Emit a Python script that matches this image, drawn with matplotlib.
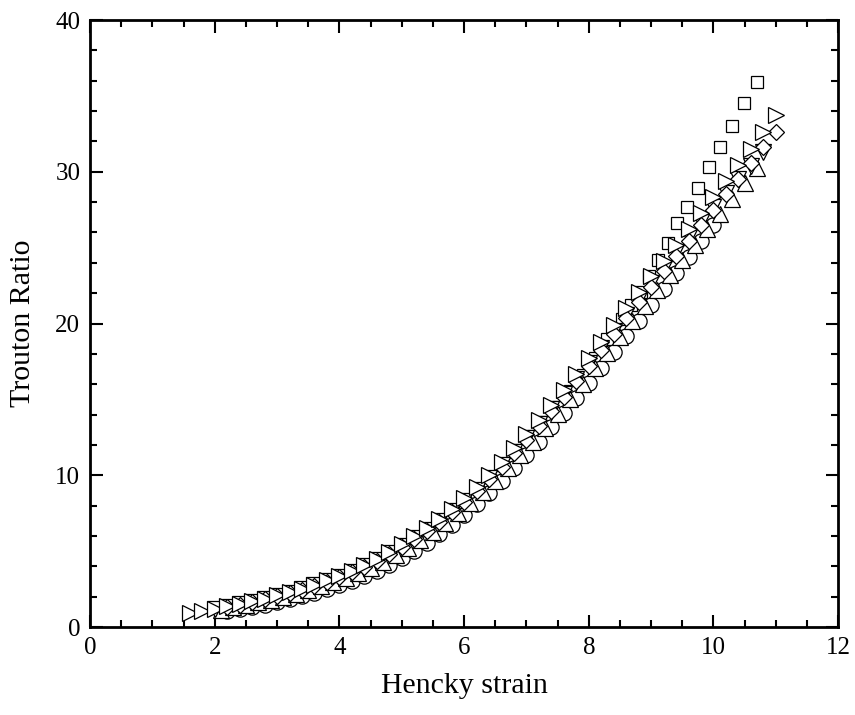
import matplotlib
matplotlib.use("Agg")
import matplotlib.pyplot as plt
from matplotlib.ticker import MultipleLocator

plt.rcParams['font.family'] = ['Liberation Serif', 'DejaVu Serif']

# Hencky strain / Trouton ratio
sq_x = [2.1, 2.3, 2.5, 2.7, 2.9, 3.1, 3.3, 3.5, 3.7, 3.9, 4.1, 4.3, 4.5, 4.7, 4.9,
        5.1, 5.3, 5.5, 5.7, 5.9, 6.1, 6.3, 6.5, 6.7, 6.9, 7.1, 7.3, 7.5, 7.7, 7.9,
        8.1, 8.3, 8.53, 8.68, 8.83, 8.97, 9.11, 9.27, 9.42, 9.58, 9.75, 9.93,
        10.11, 10.30, 10.49, 10.70]
sq_y = [1.20, 1.33, 1.47, 1.62, 1.79, 1.97, 2.17, 2.39, 2.63, 2.90, 3.20, 3.53,
        3.90, 4.32, 4.78, 5.28, 5.82, 6.40, 7.02, 7.68, 8.38, 9.12, 9.92, 10.76,
        11.64, 12.56, 13.52, 14.52, 15.56, 16.64, 17.76, 18.95, 20.3, 21.2, 22.1,
        23.1, 24.2, 25.3, 26.6, 27.7, 28.9, 30.3, 31.6, 33.0, 34.5, 35.9]

ci_x = [2.2, 2.4, 2.6, 2.8, 3.0, 3.2, 3.4, 3.6, 3.8, 4.0, 4.2, 4.4, 4.6, 4.8, 5.0,
        5.2, 5.4, 5.6, 5.8, 6.0, 6.2, 6.4, 6.6, 6.8, 7.0, 7.2, 7.4, 7.6, 7.8, 8.0,
        8.2, 8.4, 8.6, 8.8, 9.0, 9.2, 9.4, 9.6, 9.8, 10.0]
ci_y = [1.05, 1.18, 1.32, 1.48, 1.64, 1.82, 2.02, 2.24, 2.48, 2.74, 3.02, 3.34,
        3.70, 4.10, 4.55, 5.02, 5.55, 6.12, 6.72, 7.38, 8.08, 8.82, 9.62, 10.45,
        11.32, 12.22, 13.15, 14.10, 15.08, 16.08, 17.10, 18.12, 19.15, 20.20,
        21.25, 22.30, 23.35, 24.40, 25.45, 26.50]

up_x = [2.1, 2.3, 2.5, 2.7, 2.9, 3.1, 3.3, 3.5, 3.7, 3.9, 4.1, 4.3, 4.5, 4.7, 4.9,
        5.1, 5.3, 5.5, 5.7, 5.9, 6.1, 6.3, 6.5, 6.7, 6.9, 7.1, 7.3, 7.5, 7.7, 7.9,
        8.1, 8.3, 8.5, 8.7, 8.9, 9.1, 9.3, 9.5, 9.7, 9.9, 10.1, 10.3, 10.5, 10.7]
up_y = [1.15, 1.31, 1.46, 1.63, 1.80, 2.00, 2.21, 2.44, 2.69, 2.96, 3.24, 3.57,
        3.92, 4.30, 4.75, 5.23, 5.74, 6.29, 6.86, 7.49, 8.16, 8.88, 9.65, 10.46,
        11.33, 12.19, 13.10, 14.06, 15.02, 16.03, 17.04, 18.05, 19.10, 20.16,
        21.17, 22.18, 23.18, 24.19, 25.20, 26.21, 27.22, 28.22, 29.23, 30.24]

dn_x = [2.0, 2.2, 2.4, 2.6, 2.8, 3.0, 3.2, 3.4, 3.6, 3.8, 4.0, 4.2, 4.4, 4.6, 4.8,
        5.0, 5.2, 5.4, 5.6, 5.8, 6.0, 6.2, 6.4, 6.6, 6.8, 7.0, 7.2, 7.4, 7.6, 7.8,
        8.0, 8.2, 8.4, 8.6, 8.8, 9.0, 9.2, 9.4, 9.6, 9.8, 10.0, 10.2, 10.4, 10.6,
        10.8]
dn_y = [1.17, 1.33, 1.49, 1.66, 1.84, 2.04, 2.25, 2.49, 2.74, 3.02, 3.31, 3.64,
        4.00, 4.39, 4.85, 5.34, 5.86, 6.42, 7.00, 7.64, 8.33, 9.06, 9.85, 10.68,
        11.56, 12.45, 13.38, 14.36, 15.34, 16.37, 17.40, 18.42, 19.50, 20.58,
        21.61, 22.64, 23.67, 24.70, 25.70, 26.70, 27.70, 28.60, 29.50, 30.40,
        31.30]

di_x = [2.2, 2.4, 2.6, 2.8, 3.0, 3.2, 3.4, 3.6, 3.8, 4.0, 4.2, 4.4, 4.6, 4.8, 5.0,
        5.2, 5.4, 5.6, 5.8, 6.0, 6.2, 6.4, 6.6, 6.8, 7.0, 7.2, 7.4, 7.6, 7.8, 8.0,
        8.2, 8.4, 8.6, 8.8, 9.0, 9.2, 9.4, 9.6, 9.8, 10.0, 10.2, 10.4, 10.6, 10.8,
        11.0]
di_y = [1.32, 1.47, 1.65, 1.82, 2.02, 2.23, 2.46, 2.72, 2.99, 3.28, 3.61, 3.96,
        4.35, 4.80, 5.29, 5.80, 6.35, 6.94, 7.57, 8.25, 8.97, 9.75, 10.57, 11.45,
        12.32, 13.24, 14.21, 15.18, 16.20, 17.22, 18.24, 19.30, 20.37, 21.39,
        22.41, 23.43, 24.44, 25.46, 26.48, 27.50, 28.52, 29.54, 30.56, 31.60,
        32.60]

rt_x = [1.6, 1.8, 2.0, 2.2, 2.4, 2.6, 2.8, 3.0, 3.2, 3.4, 3.6, 3.8, 4.0, 4.2, 4.4,
        4.6, 4.8, 5.0, 5.2, 5.4, 5.6, 5.8, 6.0, 6.2, 6.4, 6.6, 6.8, 7.0, 7.2, 7.4,
        7.6, 7.8, 8.0, 8.2, 8.4, 8.6, 8.8, 9.0, 9.2, 9.4, 9.6, 9.8, 10.0, 10.2,
        10.4, 10.6, 10.8, 11.0]
rt_y = [0.92, 1.05, 1.20, 1.36, 1.52, 1.70, 1.88, 2.08, 2.30, 2.54, 2.80, 3.08,
        3.38, 3.72, 4.08, 4.48, 4.95, 5.45, 5.98, 6.55, 7.15, 7.80, 8.50, 9.25,
        10.05, 10.90, 11.80, 12.70, 13.65, 14.65, 15.65, 16.70, 17.75, 18.80,
        19.90, 21.00, 22.05, 23.10, 24.15, 25.20, 26.25, 27.30, 28.35, 29.40,
        30.45, 31.50, 32.60, 33.75]

fig = plt.figure(figsize=(8.55, 7.15), dpi=100)
ax = fig.add_axes([0.1053, 0.123, 0.875, 0.849])

series = [(sq_x, sq_y, 's', 9), (ci_x, ci_y, 'o', 11), (up_x, up_y, '^', 12),
          (dn_x, dn_y, 'v', 12), (di_x, di_y, 'D', 8.5), (rt_x, rt_y, '>', 12)]
for xs, ys, m, ms in series:
    ax.plot(xs, ys, linestyle='none', marker=m, markersize=ms,
            markerfacecolor='white', markeredgecolor='black', markeredgewidth=0.9)

ax.set_xlim(0, 12)
ax.set_ylim(0, 40)
ax.xaxis.set_major_locator(MultipleLocator(2))
ax.xaxis.set_minor_locator(MultipleLocator(0.5))
ax.yaxis.set_major_locator(MultipleLocator(10))
ax.yaxis.set_minor_locator(MultipleLocator(2))
ax.tick_params(which='both', direction='in', top=True, right=True, width=1.5,
               labelsize=18, pad=7)
ax.tick_params(which='major', length=9)
ax.tick_params(which='minor', length=5)
for s in ax.spines.values():
    s.set_linewidth(2)

ax.set_xlabel('Hencky strain', fontsize=21.5, labelpad=10)
ax.set_ylabel('Trouton Ratio', fontsize=21.5, labelpad=14)

fig.savefig('out.png', dpi=100)
